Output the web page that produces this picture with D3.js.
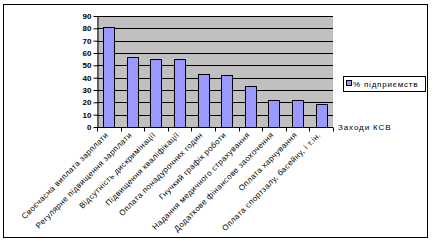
<!DOCTYPE html>
<html><head><meta charset="utf-8">
<script src="https://cdn.jsdelivr.net/npm/d3@7"></script>
<style>body{margin:0;background:#fff}svg{display:block}text{font-family:Arial,"Liberation Sans",sans-serif}</style>
</head><body><svg id="c" width="432" height="241"></svg>
<script>
const categories = ["Своєчасна виплата зарплати","Регулярне підвищення зарплати","Відсутність дискримінації","Підвищення кваліфікації","Оплата понадурочних годин","Гнучкий графік роботи","Надання медичного страхування","Додаткове фінансове заохочення","Оплата харчування","Оплата спортзалу, басейну, і т.ін."];
const values = [81, 57, 55, 55, 43, 42, 33, 22, 22, 19];
const yTicks = [0,10,20,30,40,50,60,70,80,90];
const seriesName = "% підприємств";
const axisTitle = "Заходи КСВ";

const svg = d3.select("#c");
svg.append("rect").attr("x",3.5).attr("y",4.5).attr("width",424).attr("height",233).attr("fill","#fff").attr("stroke","#000");

const L=97, R=333, T=16, B=127;
const x = d3.scaleBand().domain(categories).range([L,R]).paddingInner(0.53).paddingOuter(0.265);
const xb = d3.scaleBand().domain(categories).range([L,R]);
const y = d3.scaleLinear().domain([0,90]).range([B,T]);

svg.append("rect").attr("x",L).attr("y",T).attr("width",R-L).attr("height",B-T).attr("fill","#c0c0c0");
svg.append("g").selectAll("line").data(yTicks.slice(1)).join("line")
  .attr("x1",L).attr("x2",R).attr("y1",d=>Math.round(y(d))+0.5).attr("y2",d=>Math.round(y(d))+0.5).attr("stroke","#000");

svg.append("g").selectAll("rect").data(values).join("rect")
  .attr("x",(d,i)=>Math.round(x(categories[i]))+0.5).attr("width",Math.round(x.bandwidth()))
  .attr("y",d=>Math.round(y(d))+0.5).attr("height",d=>Math.round(B-y(d)))
  .attr("fill","#9999ff").attr("stroke","#000");

const ya = svg.append("g").attr("transform",`translate(${L+0.5},0)`).call(d3.axisLeft(y).tickValues(yTicks).tickSize(4).tickSizeOuter(0));
ya.select(".domain").attr("stroke","#000");
ya.selectAll("text").attr("font-size",8).attr("font-weight","bold").attr("x",-6).attr("fill","#000");
ya.selectAll(".tick line").attr("stroke","#000");

const xa = svg.append("g").attr("transform",`translate(0,${B+0.5})`);
xa.append("line").attr("x1",L).attr("x2",R).attr("stroke","#000");
xa.selectAll("line.t").data(categories.concat([null])).join("line").attr("class","t")
  .attr("x1",(d,i)=>Math.round(L+i*xb.step())+0.5).attr("x2",(d,i)=>Math.round(L+i*xb.step())+0.5)
  .attr("y1",0).attr("y2",4).attr("stroke","#000");
xa.selectAll("text").data(categories).join("text")
  .attr("transform",d=>`translate(${xb(d)+xb.bandwidth()/2},8) rotate(-45)`)
  .attr("text-anchor","end").attr("font-size",8).attr("letter-spacing",0.4).attr("fill","#000").text(d=>d);

svg.append("text").attr("x",338).attr("y",130).attr("font-size",8).attr("letter-spacing",0.9).attr("fill","#000").text(axisTitle);

const lg = svg.append("g");
lg.append("rect").attr("x",343.5).attr("y",76.5).attr("width",82).attr("height",15).attr("fill","#fff").attr("stroke","#000");
lg.append("rect").attr("x",346.5).attr("y",80.5).attr("width",5).attr("height",5).attr("fill","#9999ff").attr("stroke","#000");
lg.append("text").attr("x",353).attr("y",87).attr("font-size",8).attr("letter-spacing",0.8).attr("fill","#000").text(seriesName);
</script></body></html>
